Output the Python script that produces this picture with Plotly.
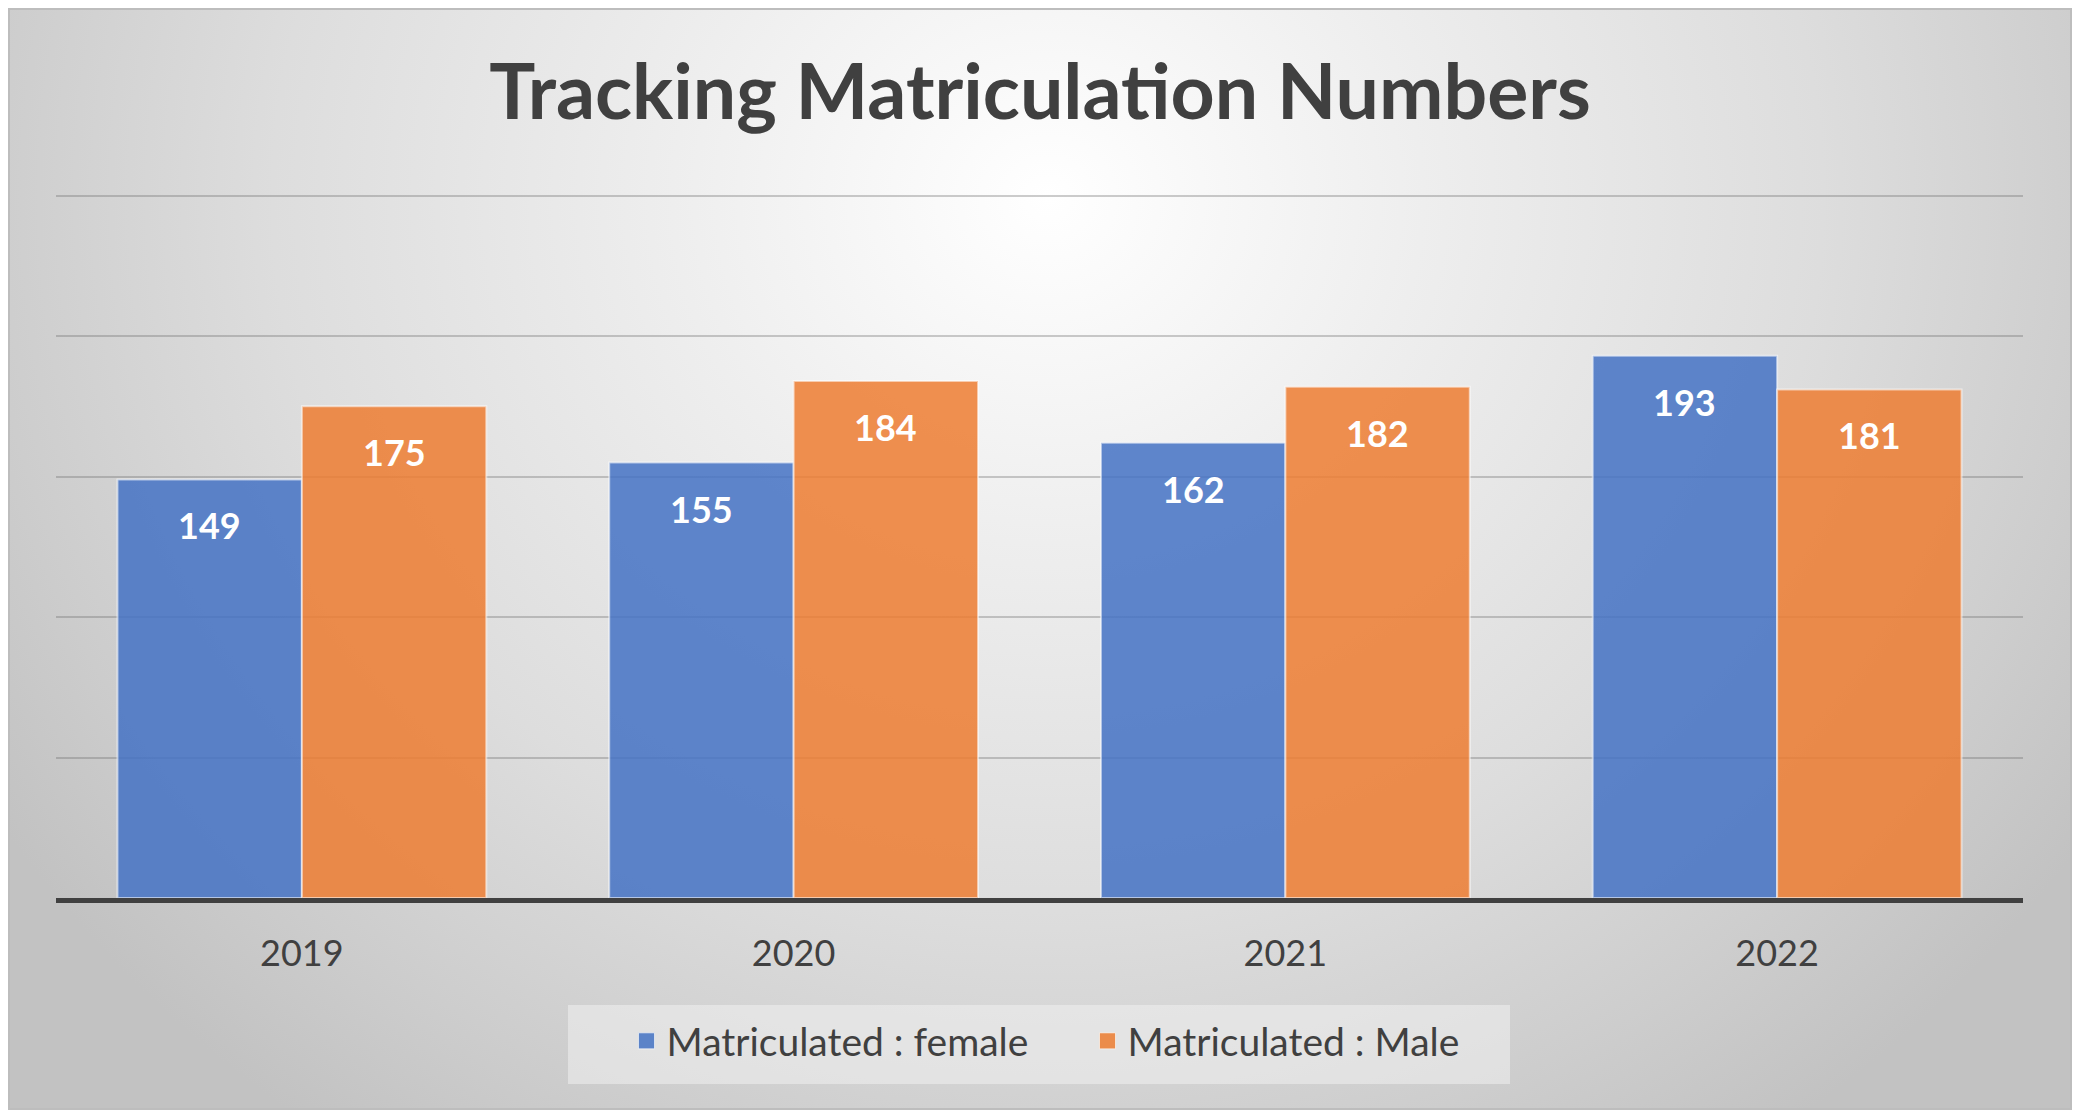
import base64
import plotly.graph_objects as go

# ---- data ----
years = ["2019", "2020", "2021", "2022"]
female = [149, 155, 162, 193]
male = [175, 184, 182, 181]
series_names = ["Matriculated : female", "Matriculated : Male"]
title_text = "Tracking Matriculation Numbers"

OFF = 8  # page body margin
W, H = 2064, 1102
ML, MR, MT, MB = 48, 49, 182, 212
PW = W - ML - MR
PH = H - MT - MB

BLUE = "rgba(68,114,196,0.85)"
ORANGE = "rgba(237,125,49,0.85)"
BLUE_SOLID = "#5b83c8"
ORANGE_SOLID = "#eb8c4b"
FONT = "Lato"

def px_to_paper_x(px):  # px in page coords
    return (px - OFF - ML) / PW

def px_to_paper_y(py):
    return (H - MB - (py - OFF)) / PH

# background gradient as inline SVG
svg = f'''<svg xmlns="http://www.w3.org/2000/svg" width="{W}" height="{H}" viewBox="0 0 {W} {H}">
<defs><radialGradient id="g" gradientUnits="userSpaceOnUse" cx="1040" cy="190" r="1250"
 gradientTransform="translate(1040 190) scale(1 0.92) translate(-1040 -190)">
<stop offset="0" stop-color="#ffffff"/>
<stop offset="0.3" stop-color="#eeeeee"/>
<stop offset="0.62" stop-color="#dddddd"/>
<stop offset="0.85" stop-color="#cdcdcd"/>
<stop offset="1" stop-color="#c2c2c2"/>
</radialGradient></defs>
<rect x="0" y="0" width="{W}" height="{H}" fill="url(#g)"/>
</svg>'''
src = "data:image/svg+xml;base64," + base64.b64encode(svg.encode()).decode()

fig = go.Figure()
fig.add_trace(go.Bar(x=years, y=female, name=series_names[0], showlegend=False,
                     marker=dict(color=BLUE, line=dict(color="rgba(255,255,255,0.55)", width=2))))
fig.add_trace(go.Bar(x=years, y=male, name=series_names[1], showlegend=False,
                     marker=dict(color=ORANGE, line=dict(color="rgba(255,255,255,0.55)", width=2))))
# legend entries with larger square swatches
for nm, col in ((series_names[0], BLUE_SOLID), (series_names[1], ORANGE_SOLID)):
    fig.add_trace(go.Scatter(x=[None], y=[None], mode="markers", name=nm,
                             marker=dict(symbol="square", size=19, color=col,
                                         line=dict(color="rgba(255,255,255,0.6)", width=1))))

annotations = []
off = 0.1875
for i, (f, m) in enumerate(zip(female, male)):
    for xv, v in ((i - off, f), (i + off, m)):
        annotations.append(dict(x=xv, y=v, xref="x", yref="y", text=f"<b>{v}</b>",
                                showarrow=False, yshift=-46,
                                font=dict(family=FONT, size=36, color="white")))

x0b, x1b = px_to_paper_x(OFF), px_to_paper_x(OFF + W)
y0b, y1b = px_to_paper_y(OFF + H), px_to_paper_y(OFF)
shapes = [
    dict(type="rect", xref="paper", yref="paper",
         x0=px_to_paper_x(OFF + 1), x1=px_to_paper_x(OFF + W - 1),
         y0=px_to_paper_y(OFF + H - 1), y1=px_to_paper_y(OFF + 1),
         line=dict(color="#bdbdbd", width=2), fillcolor="rgba(0,0,0,0)", layer="below"),
    dict(type="rect", xref="paper", yref="paper",
         x0=px_to_paper_x(568), x1=px_to_paper_x(1510),
         y0=px_to_paper_y(1084), y1=px_to_paper_y(1005),
         line=dict(width=0), fillcolor="rgba(240,240,240,0.55)", layer="below"),
]

fig.update_layout(
    width=W, height=H,
    margin=dict(l=ML, r=MR, t=MT, b=MB, pad=0),
    paper_bgcolor="white", plot_bgcolor="rgba(0,0,0,0)",
    images=[dict(source=src, xref="paper", yref="paper",
                 x=x0b, y=y1b, sizex=x1b - x0b, sizey=y1b - y0b,
                 xanchor="left", yanchor="top", sizing="stretch", layer="below")],
    title=dict(text=f"<b>{title_text}</b>", x=0.5, xanchor="center",
               y=1 - (92 - OFF) / H, yanchor="middle", yref="container",
               font=dict(family=FONT, size=77, color="#404040")),
    barmode="group", bargap=0.25, bargroupgap=0,
    xaxis=dict(showline=True, linecolor="#404040", linewidth=5,
               ticks="outside", ticklen=20, tickcolor="rgba(0,0,0,0)",
               tickfont=dict(family=FONT, size=36, color="#404040"),
               showgrid=False, zeroline=False),
    yaxis=dict(range=[0, 252], tickvals=[50, 100, 150, 200, 250], showticklabels=False,
               showgrid=True, gridcolor="rgba(110,110,110,0.35)", gridwidth=2,
               zeroline=False, showline=False),
    legend=dict(orientation="h", x=px_to_paper_x(1039.5 + 48), xanchor="center",
                y=px_to_paper_y(1041), yanchor="middle",
                bgcolor="rgba(0,0,0,0)", font=dict(family=FONT, size=39, color="#404040"),
                itemwidth=30, itemsizing="trace", entrywidth=416, entrywidthmode="pixels",
                traceorder="normal"),
    annotations=annotations,
    shapes=shapes,
    showlegend=True,
)

fig.write_html("out.html")
